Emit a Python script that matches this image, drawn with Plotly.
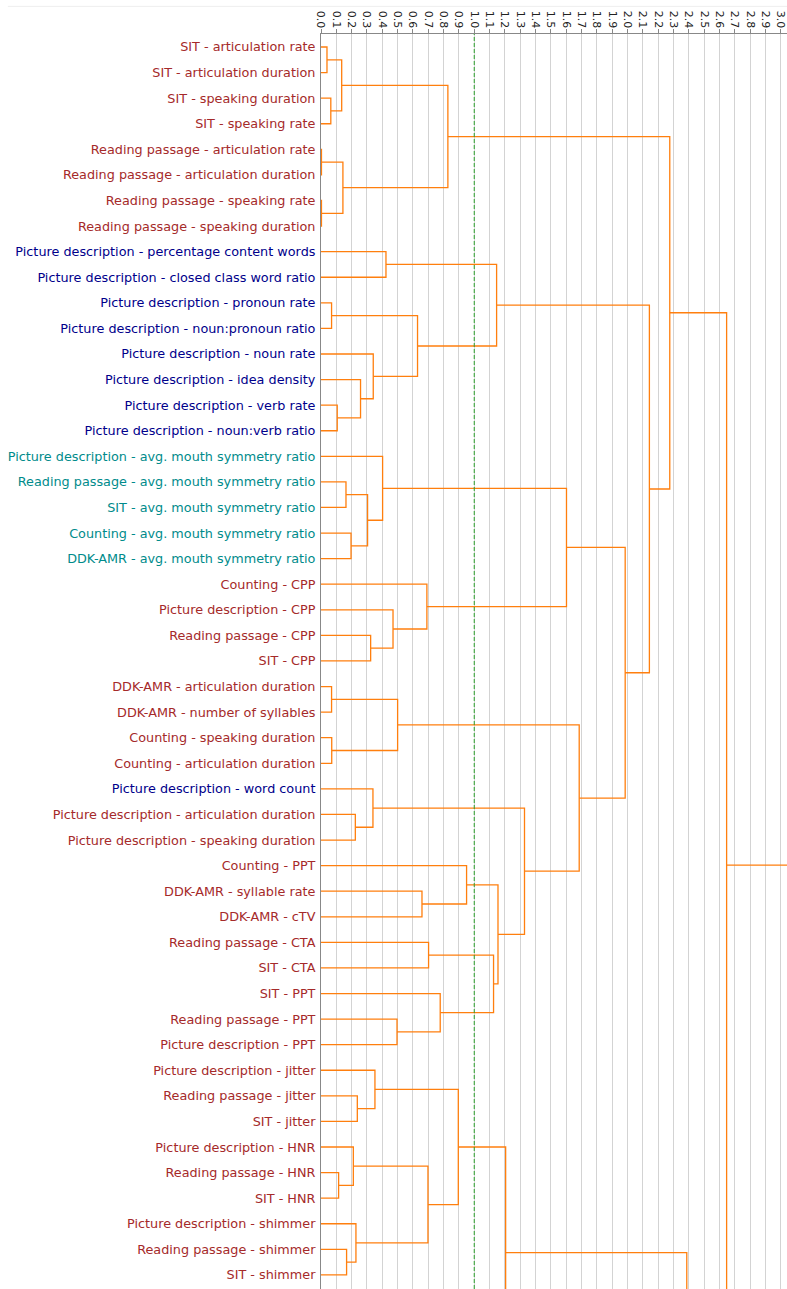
import plotly.graph_objects as go

# ---- leaves (top to bottom) and their label colours -------------------------
BROWN = "#a52a2a"
NAVY = "#00008b"
TEAL = "#008b8b"

leaf_labels = [
    "SIT - articulation rate",
    "SIT - articulation duration",
    "SIT - speaking duration",
    "SIT - speaking rate",
    "Reading passage - articulation rate",
    "Reading passage - articulation duration",
    "Reading passage - speaking rate",
    "Reading passage - speaking duration",
    "Picture description - percentage content words",
    "Picture description - closed class word ratio",
    "Picture description - pronoun rate",
    "Picture description - noun:pronoun ratio",
    "Picture description - noun rate",
    "Picture description - idea density",
    "Picture description - verb rate",
    "Picture description - noun:verb ratio",
    "Picture description - avg. mouth symmetry ratio",
    "Reading passage - avg. mouth symmetry ratio",
    "SIT - avg. mouth symmetry ratio",
    "Counting - avg. mouth symmetry ratio",
    "DDK-AMR - avg. mouth symmetry ratio",
    "Counting - CPP",
    "Picture description - CPP",
    "Reading passage - CPP",
    "SIT - CPP",
    "DDK-AMR - articulation duration",
    "DDK-AMR - number of syllables",
    "Counting - speaking duration",
    "Counting - articulation duration",
    "Picture description - word count",
    "Picture description - articulation duration",
    "Picture description - speaking duration",
    "Counting - PPT",
    "DDK-AMR - syllable rate",
    "DDK-AMR - cTV",
    "Reading passage - CTA",
    "SIT - CTA",
    "SIT - PPT",
    "Reading passage - PPT",
    "Picture description - PPT",
    "Picture description - jitter",
    "Reading passage - jitter",
    "SIT - jitter",
    "Picture description - HNR",
    "Reading passage - HNR",
    "SIT - HNR",
    "Picture description - shimmer",
    "Reading passage - shimmer",
    "SIT - shimmer",
    "Counting - jitter",
    "DDK-AMR - jitter",
    "DDK-AMR - shimmer",
    "Counting - HNR",
    "DDK-AMR - HNR",
    "Counting - shimmer",
    "Counting - articulation rate",
    "Counting - speaking rate",
    "DDK-AMR - articulation rate",
    "DDK-AMR - speaking rate",
    "Picture description - articulation rate",
    "Picture description - speaking rate",
    "Counting - number of syllables",
    "DDK-AMR - CPP",
    "DDK-AMR - PPT",
]

leaf_colors = (
    [BROWN] * 8 + [NAVY] * 8 + [TEAL] * 5 + [BROWN] * 8 + [NAVY]
    + [BROWN] * 19 + [BROWN] * 15
)

# ---- linkage: (left id, right id, distance); new clusters get ids n, n+1, ...
merges = [
    (0, 1, 0.039), (2, 3, 0.064), (64, 65, 0.135),
    (4, 5, 0.003), (6, 7, 0.003), (67, 68, 0.143),
    (66, 69, 0.828),
    (8, 9, 0.424), (10, 11, 0.069), (14, 15, 0.106), (13, 73, 0.258),
    (12, 74, 0.341), (72, 75, 0.630), (71, 76, 1.146),
    (17, 18, 0.163), (19, 20, 0.196), (78, 79, 0.304), (16, 80, 0.402),
    (23, 24, 0.324), (22, 82, 0.470), (21, 83, 0.691), (81, 84, 1.602),
    (25, 26, 0.069), (27, 28, 0.070), (86, 87, 0.500),
    (30, 31, 0.224), (29, 89, 0.339),
    (33, 34, 0.659), (32, 91, 0.950), (35, 36, 0.702),
    (38, 39, 0.496), (37, 94, 0.778), (93, 95, 1.126), (92, 96, 1.155),
    (90, 97, 1.328), (88, 98, 1.685), (85, 99, 1.985),
    (77, 100, 2.143), (70, 101, 2.276),
    (41, 42, 0.237), (40, 103, 0.352), (44, 45, 0.115), (43, 105, 0.211),
    (47, 48, 0.167), (46, 107, 0.228), (106, 108, 0.698), (104, 109, 0.896),
    (50, 51, 0.310), (49, 111, 0.520), (53, 54, 0.270), (52, 113, 0.440),
    (112, 114, 0.930), (110, 115, 1.205),
    (55, 56, 0.200), (117, 57, 0.450), (118, 58, 0.700), (119, 59, 0.950),
    (120, 60, 1.300), (121, 61, 1.700),
    (116, 122, 2.387), (102, 123, 2.647),
    (62, 63, 1.900), (124, 125, 3.350),
]

color_threshold = 1.0

# ---- dendrogram layout -------------------------------------------------------
n = len(leaf_labels)
pos = {i: float(i) for i in range(n)}      # vertical position of each cluster
height = {i: 0.0 for i in range(n)}        # merge distance of each cluster

xs, ys = [], []
for k, (a, b, d) in enumerate(merges):
    cid = n + k
    pos[cid] = (pos[a] + pos[b]) / 2.0
    height[cid] = d
    xs += [height[a], d, d, height[b], None]
    ys += [pos[a], pos[a], pos[b], pos[b], None]

tick_text = [
    f"<span style='color:{c}'>{lab}</span>" for lab, c in zip(leaf_labels, leaf_colors)
]

fig = go.Figure()
fig.add_trace(
    go.Scatter(
        x=xs, y=ys, mode="lines",
        line=dict(color="#ff7f0e", width=1.3),
        hoverinfo="skip", showlegend=False,
    )
)

# distance threshold
fig.add_shape(
    type="line", xref="x", yref="paper",
    x0=color_threshold, x1=color_threshold, y0=0, y1=1,
    line=dict(color="#2ca02c", width=1, dash="4px,2px"),
)
# thin frame line above the axis labels
fig.add_shape(
    type="line", xref="paper", yref="paper",
    x0=-0.672, x1=1.0, y0=1.022, y1=1.022,
    line=dict(color="#eeeeee", width=1),
)

fig.update_layout(
    width=787, height=1289,
    margin=dict(l=321, r=0, t=34, b=0, autoexpand=False),
    paper_bgcolor="white", plot_bgcolor="white",
    font=dict(family="DejaVu Sans", size=13, color="#222222"),
    xaxis=dict(
        side="top", range=[0, 3.041], dtick=0.1, tick0=0, tickformat=".1f",
        tickangle=90, ticks="outside", ticklen=4, tickcolor="#888888",
        tickfont=dict(size=11, color="#222222"),
        ticklabelstandoff=-3, ticklabeloverflow="allow",
        showline=True, linecolor="#888888", linewidth=1,
        showgrid=True, gridcolor="#d3d3d3", gridwidth=1,
        zeroline=False, automargin=False,
    ),
    yaxis=dict(
        range=[48.55, -0.508], tickmode="array",
        tickvals=list(range(n)), ticktext=tick_text,
        ticks="", showline=True, linecolor="#888888", linewidth=1,
        ticklabelstandoff=2,
        showgrid=False, zeroline=False, automargin=False,
        tickfont=dict(size=12.8),
    ),
)

fig.write_html("out.html")
